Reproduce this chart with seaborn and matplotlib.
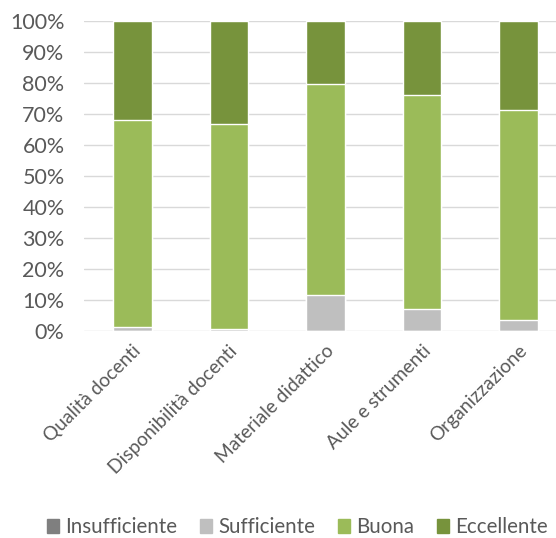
import seaborn as sns
import matplotlib.pyplot as plt
import pandas as pd
from matplotlib.patches import Patch
from matplotlib.ticker import PercentFormatter

categorie = ["Qualità docenti", "Disponibilità docenti", "Materiale didattico",
             "Aule e strumenti", "Organizzazione"]
serie = ["Insufficiente", "Sufficiente", "Buona", "Eccellente"]
insufficiente = [0.0, 0.0, 0.0, 0.0, 0.0]
sufficiente = [1.4, 0.5, 11.7, 7.1, 3.5]
buona = [66.7, 66.2, 68.0, 69.1, 67.8]
eccellente = [31.9, 33.3, 20.3, 23.8, 28.7]
colori = ["#7f7f7f", "#bfbfbf", "#9bbb59", "#77933c"]

df = pd.DataFrame({"categoria": categorie, "Insufficiente": insufficiente,
                   "Sufficiente": sufficiente, "Buona": buona, "Eccellente": eccellente})
cum = df[serie].cumsum(axis=1)
cum["categoria"] = categorie

sns.set_style("white")
plt.rcParams["font.family"] = ["Lato", "DejaVu Sans"]
grigio = "#595959"

fig = plt.figure(figsize=(5.56, 5.38), dpi=100)
ax = fig.add_axes([84 / 556, 207 / 538, 472 / 556, 310 / 538])

# stacked bars: draw the cumulative totals from the top series down
for s, c in reversed(list(zip(serie, colori))):
    sns.barplot(data=cum, x="categoria", y=s, color=c, width=0.40,
                saturation=1, ax=ax, zorder=3)

ax.set_xlim(-0.5, 4.386)
ax.set_ylim(0, 100)
ax.set_yticks(range(0, 101, 10))
ax.yaxis.set_major_formatter(PercentFormatter(decimals=0))
ax.grid(axis="y", color="#d9d9d9", linewidth=1, zorder=0)
ax.set_axisbelow(True)
for sp in ax.spines.values():
    sp.set_visible(False)
ax.set_xlabel("")
ax.set_ylabel("")
ax.tick_params(axis="both", length=0, colors=grigio)
ax.tick_params(axis="y", labelsize=15.5, pad=14)
ax.tick_params(axis="x", labelsize=13.8, pad=8)
plt.setp(ax.get_xticklabels(), rotation=45, ha="right", rotation_mode="anchor")

handles = [Patch(color=c, label=s) for s, c in zip(serie, colori)]
fig.legend(handles=handles, loc="center", bbox_to_anchor=(0.535, 0.02), ncol=4,
           frameon=False, fontsize=14.8, labelcolor=grigio, handlelength=0.6,
           handleheight=0.6, handletextpad=0.3, columnspacing=1.1)

fig.savefig("out.png", dpi=100)
